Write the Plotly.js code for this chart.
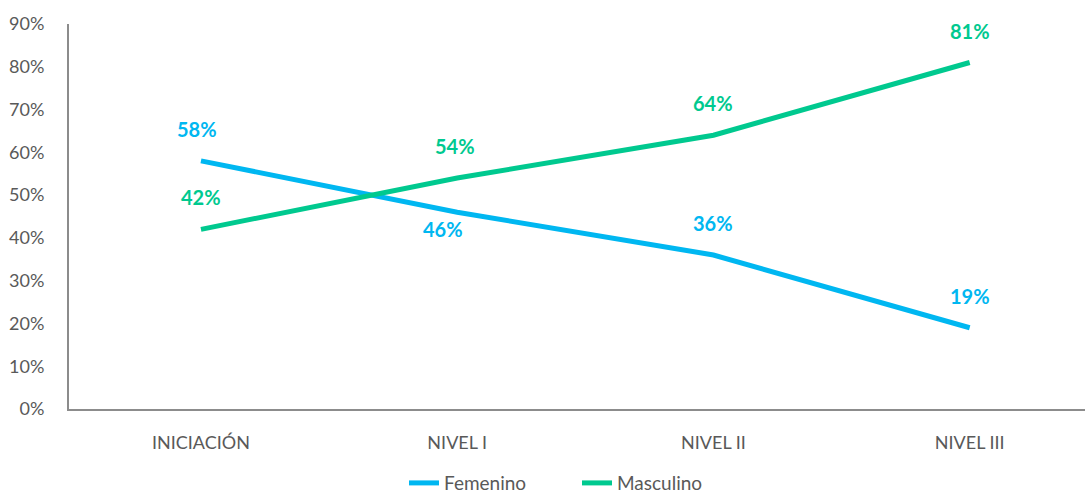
<!DOCTYPE html>
<html>
<head>
<meta charset="utf-8">
<script src="https://cdn.plot.ly/plotly-3.0.1.min.js"></script>
<style>html,body{margin:0;padding:0;background:#fff;}#chart{width:1086px;height:495px;}</style>
</head>
<body>
<div id="chart"></div>
<script>
var categories = ["INICIACIÓN", "NIVEL I", "NIVEL II", "NIVEL III"];
var femenino = [0.58, 0.46, 0.36, 0.19];
var masculino = [0.42, 0.54, 0.64, 0.81];
var femeninoLabelShiftY = [32, -17, 32, 32];
var femeninoLabelShiftX = [-4, -14, 0, 0];
var masculinoLabelShiftY = [32, 32, 32, 32];
var masculinoLabelShiftX = [0, -2, 0, 0];
var yTickVals = [0, 0.1, 0.2, 0.3, 0.4, 0.5, 0.6, 0.7, 0.8, 0.9];

var blue = "#00B7F1";
var green = "#00C98F";
var fontFam = "Lato, sans-serif";

var traces = [
  {x: [0,1,2,3], y: femenino, name: "Femenino", type: "scatter", mode: "lines",
   line: {color: blue, width: 5}},
  {x: [0,1,2,3], y: masculino, name: "Masculino", type: "scatter", mode: "lines",
   line: {color: green, width: 5}}
];

var annotations = [];
femenino.forEach(function(v, i){
  annotations.push({x: i, y: v, text: Math.round(v*100) + "%", showarrow: false,
    yshift: femeninoLabelShiftY[i], xshift: femeninoLabelShiftX[i],
    font: {family: fontFam, size: 20, color: blue, weight: "bold"}});
});
masculino.forEach(function(v, i){
  annotations.push({x: i, y: v, text: Math.round(v*100) + "%", showarrow: false,
    yshift: masculinoLabelShiftY[i], xshift: masculinoLabelShiftX[i],
    font: {family: fontFam, size: 20, color: green, weight: "bold"}});
});

var layout = {
  width: 1086, height: 495,
  margin: {l: 69, r: 1, t: 24, b: 86, autoexpand: false},
  paper_bgcolor: "#fff", plot_bgcolor: "#fff",
  font: {family: fontFam, color: "#595959", size: 18},
  showlegend: true,
  legend: {orientation: "h", x: 0.5, xanchor: "center", y: -0.143, yanchor: "top",
    entrywidth: 128, font: {family: fontFam, size: 19, color: "#595959"}},
  xaxis: {
    range: [-0.515, 3.45], tickmode: "array", tickvals: [0,1,2,3], ticktext: categories,
    showgrid: false, zeroline: false, showline: true, linecolor: "#8c8c8c", linewidth: 2,
    ticks: "", ticklabelstandoff: 16, automargin: false, tickfont: {family: fontFam, size: 18, color: "#595959"}
  },
  yaxis: {
    range: [0, 0.9], tickmode: "array", tickvals: yTickVals, tickformat: ".0%",
    showgrid: false, zeroline: false, showline: true, linecolor: "#8c8c8c", linewidth: 2,
    ticks: "", ticklabelstandoff: 19, automargin: false, tickfont: {family: fontFam, size: 18, color: "#595959"}
  },
  annotations: annotations
};

Plotly.newPlot("chart", traces, layout, {displayModeBar: false, staticPlot: true});
</script>
</body>
</html>
